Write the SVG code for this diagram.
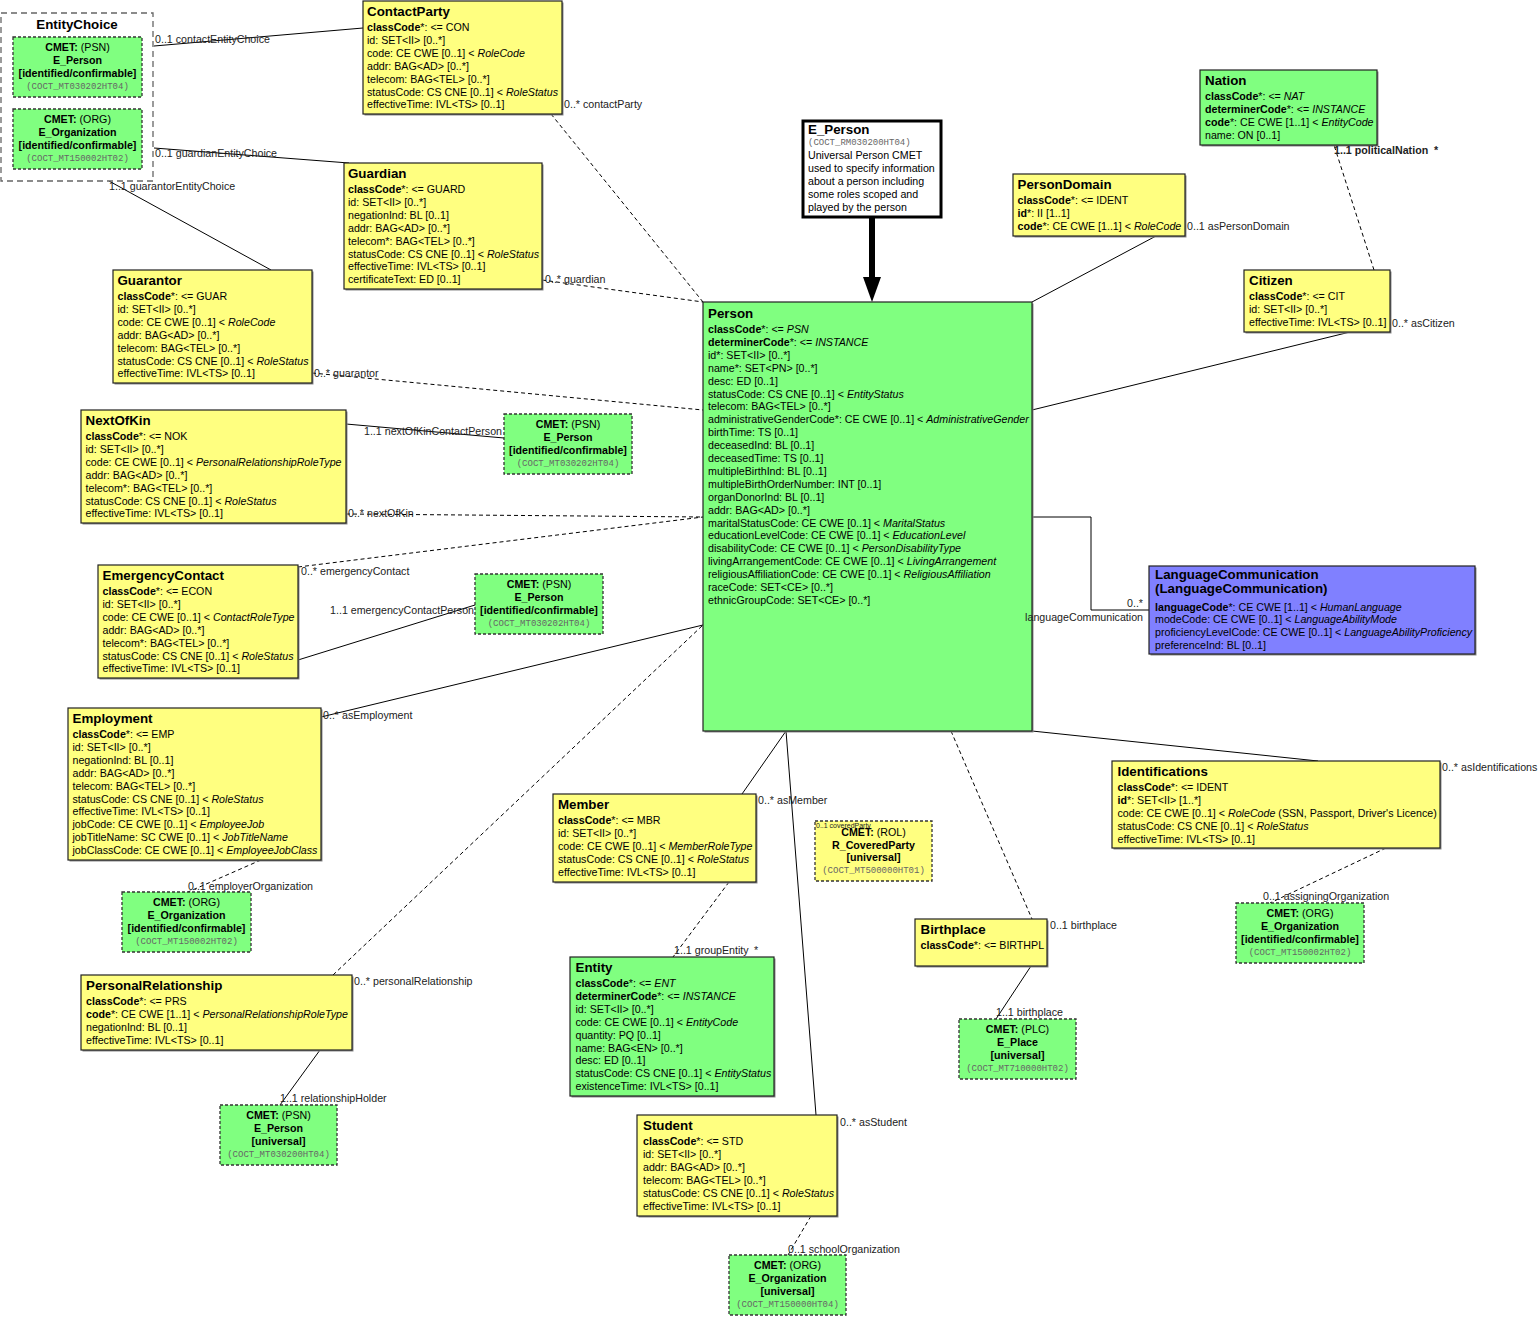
<svg xmlns="http://www.w3.org/2000/svg" width="1539" height="1317" viewBox="0 0 1539 1317">
<style>
text{font-family:"Liberation Sans",Arial,sans-serif;font-size:10.67px;fill:#000}
.t{font-size:13.33px;font-weight:bold}
.b{font-weight:bold}
.i{font-style:italic}
.c{text-anchor:middle}
.e{text-anchor:end}
.m{font-family:"Liberation Mono","Courier New",monospace;font-size:9px;fill:#666}
.l{fill:#222}
.y{fill:#ffff80;stroke:#222;stroke-width:1.2}
.g{fill:#80ff80;stroke:#222;stroke-width:1.2}
.p{fill:#8080ff;stroke:#222;stroke-width:1.2}
.sh{fill:#8a8a8a}
.cm{fill:#80ff80;stroke:#333;stroke-width:1.3;stroke-dasharray:3 2}
.cmy{fill:#ffff80;stroke:#333;stroke-width:1.3;stroke-dasharray:3 2}
.ec{fill:#fff;stroke:#666;stroke-width:1.3;stroke-dasharray:6 4}
.note{fill:#fff;stroke:#000;stroke-width:3}
.s{stroke:#000;stroke-width:1;fill:none}
.d{stroke:#000;stroke-width:1;fill:none;stroke-dasharray:4 3}
</style>
<rect x="0" y="0" width="1539" height="1317" fill="#fff"/>

<g id="connectors">
<line class="s" x1="154" y1="46" x2="363" y2="28"/>
<line class="d" x1="551" y1="114" x2="703" y2="302"/>
<line class="s" x1="154" y1="148" x2="349" y2="163"/>
<line class="d" x1="542" y1="280" x2="703" y2="302"/>
<line class="s" x1="271" y1="270" x2="109" y2="181"/>
<line class="d" x1="312" y1="373" x2="703" y2="410"/>
<line class="s" x1="346" y1="424" x2="504" y2="438"/>
<line class="d" x1="346" y1="514" x2="703" y2="517"/>
<line class="d" x1="298" y1="567" x2="703" y2="517"/>
<line class="s" x1="298" y1="660" x2="475" y2="605"/>
<line class="s" x1="321" y1="717" x2="703" y2="625"/>
<line class="d" x1="261" y1="860" x2="188" y2="892"/>
<line class="d" x1="333" y1="975" x2="703" y2="625"/>
<line class="s" x1="320" y1="1050" x2="280" y2="1105"/>
<line class="s" x1="742" y1="794" x2="786" y2="731"/>
<line class="d" x1="729" y1="882" x2="673" y2="957"/>
<line class="s" x1="786" y1="731" x2="816" y2="1115"/>
<line class="d" x1="811" y1="1216" x2="788" y2="1255"/>
<line class="d" x1="951" y1="731" x2="1032" y2="919"/>
<line class="s" x1="1031" y1="966" x2="996" y2="1019"/>
<line class="s" x1="1032" y1="731" x2="1318" y2="761"/>
<line class="d" x1="1386" y1="848" x2="1270" y2="903"/>
<line class="s" x1="1032" y1="302" x2="1156" y2="236"/>
<line class="s" x1="1032" y1="410" x2="1350" y2="332"/>
<line class="d" x1="1374" y1="270" x2="1334" y2="145"/>
<polyline class="s" points="1032,517 1091,517 1091,610 1149,610"/>
<line x1="872" y1="217" x2="872" y2="280" stroke="#000" stroke-width="6"/>
<polygon points="863,277 881,277 872,302" fill="#000"/>
</g>

<g id="EntityChoice">
<rect class="ec" x="1" y="13" width="152" height="168"/>
<text class="t c" x="77" y="29">EntityChoice</text>
</g>
<g id="EC_E_Person">
<rect class="cm" x="13" y="37" width="129" height="60"/>
<text class="c" x="77.5" y="51"><tspan class="b">CMET:</tspan> (PSN)</text>
<text class="c b" x="77.5" y="64">E_Person</text>
<text class="c b" x="77.5" y="77">[identified/confirmable]</text>
<text class="c m" x="77.5" y="88.5">(COCT_MT030202HT04)</text>
</g>
<g id="EC_E_Organization">
<rect class="cm" x="13" y="109" width="129" height="60"/>
<text class="c" x="77.5" y="123"><tspan class="b">CMET:</tspan> (ORG)</text>
<text class="c b" x="77.5" y="136">E_Organization</text>
<text class="c b" x="77.5" y="149">[identified/confirmable]</text>
<text class="c m" x="77.5" y="160.5">(COCT_MT150002HT02)</text>
</g>

<g id="ContactParty">
<rect class="sh" x="364.5" y="2.5" width="199" height="113"/>
<rect class="y" x="363" y="1" width="199" height="113"/>
<text class="t" x="367" y="16">ContactParty</text>
<text x="367" y="31"><tspan class="b">classCode</tspan>*: &lt;= CON</text>
<text x="367" y="43.9">id: SET&lt;II&gt; [0..*]</text>
<text x="367" y="56.8">code: CE CWE [0..1] &lt; <tspan class="i">RoleCode</tspan></text>
<text x="367" y="69.7">addr: BAG&lt;AD&gt; [0..*]</text>
<text x="367" y="82.6">telecom: BAG&lt;TEL&gt; [0..*]</text>
<text x="367" y="95.5">statusCode: CS CNE [0..1] &lt; <tspan class="i">RoleStatus</tspan></text>
<text x="367" y="108.4">effectiveTime: IVL&lt;TS&gt; [0..1]</text>
</g>

<g id="Guardian">
<rect class="sh" x="345.5" y="164.5" width="198" height="126"/>
<rect class="y" x="344" y="163" width="198" height="126"/>
<text class="t" x="348" y="178">Guardian</text>
<text x="348" y="193"><tspan class="b">classCode</tspan>*: &lt;= GUARD</text>
<text x="348" y="205.9">id: SET&lt;II&gt; [0..*]</text>
<text x="348" y="218.8">negationInd: BL [0..1]</text>
<text x="348" y="231.7">addr: BAG&lt;AD&gt; [0..*]</text>
<text x="348" y="244.6">telecom*: BAG&lt;TEL&gt; [0..*]</text>
<text x="348" y="257.5">statusCode: CS CNE [0..1] &lt; <tspan class="i">RoleStatus</tspan></text>
<text x="348" y="270.4">effectiveTime: IVL&lt;TS&gt; [0..1]</text>
<text x="348" y="283.3">certificateText: ED [0..1]</text>
</g>

<g id="Guarantor">
<rect class="sh" x="114.5" y="271.5" width="199" height="113"/>
<rect class="y" x="113" y="270" width="199" height="113"/>
<text class="t" x="117.5" y="285">Guarantor</text>
<text x="117.5" y="300"><tspan class="b">classCode</tspan>*: &lt;= GUAR</text>
<text x="117.5" y="312.9">id: SET&lt;II&gt; [0..*]</text>
<text x="117.5" y="325.8">code: CE CWE [0..1] &lt; <tspan class="i">RoleCode</tspan></text>
<text x="117.5" y="338.7">addr: BAG&lt;AD&gt; [0..*]</text>
<text x="117.5" y="351.6">telecom: BAG&lt;TEL&gt; [0..*]</text>
<text x="117.5" y="364.5">statusCode: CS CNE [0..1] &lt; <tspan class="i">RoleStatus</tspan></text>
<text x="117.5" y="377.4">effectiveTime: IVL&lt;TS&gt; [0..1]</text>
</g>

<g id="NextOfKin">
<rect class="sh" x="82.5" y="411.5" width="265" height="113"/>
<rect class="y" x="81" y="410" width="265" height="113"/>
<text class="t" x="85.5" y="425">NextOfKin</text>
<text x="85.5" y="440"><tspan class="b">classCode</tspan>*: &lt;= NOK</text>
<text x="85.5" y="452.9">id: SET&lt;II&gt; [0..*]</text>
<text x="85.5" y="465.8">code: CE CWE [0..1] &lt; <tspan class="i">PersonalRelationshipRoleType</tspan></text>
<text x="85.5" y="478.7">addr: BAG&lt;AD&gt; [0..*]</text>
<text x="85.5" y="491.6">telecom*: BAG&lt;TEL&gt; [0..*]</text>
<text x="85.5" y="504.5">statusCode: CS CNE [0..1] &lt; <tspan class="i">RoleStatus</tspan></text>
<text x="85.5" y="517.4">effectiveTime: IVL&lt;TS&gt; [0..1]</text>
</g>
<g id="NOK_E_Person">
<rect class="cm" x="504" y="414" width="128" height="60"/>
<text class="c" x="568" y="428"><tspan class="b">CMET:</tspan> (PSN)</text>
<text class="c b" x="568" y="441">E_Person</text>
<text class="c b" x="568" y="454">[identified/confirmable]</text>
<text class="c m" x="568" y="465.5">(COCT_MT030202HT04)</text>
</g>

<g id="EmergencyContact">
<rect class="sh" x="99.5" y="566.5" width="200" height="113"/>
<rect class="y" x="98" y="565" width="200" height="113"/>
<text class="t" x="102.5" y="580">EmergencyContact</text>
<text x="102.5" y="595"><tspan class="b">classCode</tspan>*: &lt;= ECON</text>
<text x="102.5" y="607.9">id: SET&lt;II&gt; [0..*]</text>
<text x="102.5" y="620.8">code: CE CWE [0..1] &lt; <tspan class="i">ContactRoleType</tspan></text>
<text x="102.5" y="633.7">addr: BAG&lt;AD&gt; [0..*]</text>
<text x="102.5" y="646.6">telecom*: BAG&lt;TEL&gt; [0..*]</text>
<text x="102.5" y="659.5">statusCode: CS CNE [0..1] &lt; <tspan class="i">RoleStatus</tspan></text>
<text x="102.5" y="672.4">effectiveTime: IVL&lt;TS&gt; [0..1]</text>
</g>
<g id="EMC_E_Person">
<rect class="cm" x="475" y="574" width="128" height="60"/>
<text class="c" x="539" y="588"><tspan class="b">CMET:</tspan> (PSN)</text>
<text class="c b" x="539" y="601">E_Person</text>
<text class="c b" x="539" y="614">[identified/confirmable]</text>
<text class="c m" x="539" y="625.5">(COCT_MT030202HT04)</text>
</g>

<g id="Employment">
<rect class="sh" x="69.5" y="709.5" width="253" height="152"/>
<rect class="y" x="68" y="708" width="253" height="152"/>
<text class="t" x="72.5" y="723">Employment</text>
<text x="72.5" y="738"><tspan class="b">classCode</tspan>*: &lt;= EMP</text>
<text x="72.5" y="750.9">id: SET&lt;II&gt; [0..*]</text>
<text x="72.5" y="763.8">negationInd: BL [0..1]</text>
<text x="72.5" y="776.7">addr: BAG&lt;AD&gt; [0..*]</text>
<text x="72.5" y="789.6">telecom: BAG&lt;TEL&gt; [0..*]</text>
<text x="72.5" y="802.5">statusCode: CS CNE [0..1] &lt; <tspan class="i">RoleStatus</tspan></text>
<text x="72.5" y="815.4">effectiveTime: IVL&lt;TS&gt; [0..1]</text>
<text x="72.5" y="828.3">jobCode: CE CWE [0..1] &lt; <tspan class="i">EmployeeJob</tspan></text>
<text x="72.5" y="841.2">jobTitleName: SC CWE [0..1] &lt; <tspan class="i">JobTitleName</tspan></text>
<text x="72.5" y="854.1">jobClassCode: CE CWE [0..1] &lt; <tspan class="i">EmployeeJobClass</tspan></text>
</g>
<g id="EMP_E_Organization">
<rect class="cm" x="122" y="892" width="129" height="60"/>
<text class="c" x="186.5" y="906"><tspan class="b">CMET:</tspan> (ORG)</text>
<text class="c b" x="186.5" y="919">E_Organization</text>
<text class="c b" x="186.5" y="932">[identified/confirmable]</text>
<text class="c m" x="186.5" y="943.5">(COCT_MT150002HT02)</text>
</g>

<g id="PersonalRelationship">
<rect class="sh" x="82.5" y="976.5" width="271" height="75"/>
<rect class="y" x="81" y="975" width="271" height="75"/>
<text class="t" x="86" y="990">PersonalRelationship</text>
<text x="86" y="1005"><tspan class="b">classCode</tspan>*: &lt;= PRS</text>
<text x="86" y="1017.9"><tspan class="b">code</tspan>*: CE CWE [1..1] &lt; <tspan class="i">PersonalRelationshipRoleType</tspan></text>
<text x="86" y="1030.8">negationInd: BL [0..1]</text>
<text x="86" y="1043.7">effectiveTime: IVL&lt;TS&gt; [0..1]</text>
</g>
<g id="PR_E_Person">
<rect class="cm" x="220" y="1105" width="117" height="60"/>
<text class="c" x="278.5" y="1119"><tspan class="b">CMET:</tspan> (PSN)</text>
<text class="c b" x="278.5" y="1132">E_Person</text>
<text class="c b" x="278.5" y="1145">[universal]</text>
<text class="c m" x="278.5" y="1156.5">(COCT_MT030200HT04)</text>
</g>

<g id="E_Person_Note">
<rect class="note" x="803" y="121" width="138" height="96"/>
<text class="t" x="808" y="134">E_Person</text>
<text class="m" x="808" y="144.5">(COCT_RM030200HT04)</text>
<text x="808" y="159">Universal Person CMET</text>
<text x="808" y="171.9">used to specify information</text>
<text x="808" y="184.8">about a person including</text>
<text x="808" y="197.7">some roles scoped and</text>
<text x="808" y="210.6">played by the person</text>
</g>

<g id="Person">
<rect class="sh" x="704.5" y="303.5" width="329" height="429"/>
<rect class="g" x="703" y="302" width="329" height="429"/>
<text class="t" x="708" y="317.5">Person</text>
<text x="708" y="333"><tspan class="b">classCode</tspan>*: &lt;= <tspan class="i">PSN</tspan></text>
<text x="708" y="345.9"><tspan class="b">determinerCode</tspan>*: &lt;= <tspan class="i">INSTANCE</tspan></text>
<text x="708" y="358.8">id*: SET&lt;II&gt; [0..*]</text>
<text x="708" y="371.7">name*: SET&lt;PN&gt; [0..*]</text>
<text x="708" y="384.6">desc: ED [0..1]</text>
<text x="708" y="397.5">statusCode: CS CNE [0..1] &lt; <tspan class="i">EntityStatus</tspan></text>
<text x="708" y="410.4">telecom: BAG&lt;TEL&gt; [0..*]</text>
<text x="708" y="423.3">administrativeGenderCode*: CE CWE [0..1] &lt; <tspan class="i">AdministrativeGender</tspan></text>
<text x="708" y="436.2">birthTime: TS [0..1]</text>
<text x="708" y="449.1">deceasedInd: BL [0..1]</text>
<text x="708" y="462">deceasedTime: TS [0..1]</text>
<text x="708" y="474.9">multipleBirthInd: BL [0..1]</text>
<text x="708" y="487.8">multipleBirthOrderNumber: INT [0..1]</text>
<text x="708" y="500.7">organDonorInd: BL [0..1]</text>
<text x="708" y="513.6">addr: BAG&lt;AD&gt; [0..*]</text>
<text x="708" y="526.5">maritalStatusCode: CE CWE [0..1] &lt; <tspan class="i">MaritalStatus</tspan></text>
<text x="708" y="539.4">educationLevelCode: CE CWE [0..1] &lt; <tspan class="i">EducationLevel</tspan></text>
<text x="708" y="552.3">disabilityCode: CE CWE [0..1] &lt; <tspan class="i">PersonDisabilityType</tspan></text>
<text x="708" y="565.2">livingArrangementCode: CE CWE [0..1] &lt; <tspan class="i">LivingArrangement</tspan></text>
<text x="708" y="578.1">religiousAffiliationCode: CE CWE [0..1] &lt; <tspan class="i">ReligiousAffiliation</tspan></text>
<text x="708" y="591">raceCode: SET&lt;CE&gt; [0..*]</text>
<text x="708" y="603.9">ethnicGroupCode: SET&lt;CE&gt; [0..*]</text>
</g>

<g id="Nation">
<rect class="sh" x="1201.5" y="71.5" width="177" height="75"/>
<rect class="g" x="1200" y="70" width="177" height="75"/>
<text class="t" x="1205" y="85">Nation</text>
<text x="1205" y="100"><tspan class="b">classCode</tspan>*: &lt;= <tspan class="i">NAT</tspan></text>
<text x="1205" y="112.9"><tspan class="b">determinerCode</tspan>*: &lt;= <tspan class="i">INSTANCE</tspan></text>
<text x="1205" y="125.8"><tspan class="b">code</tspan>*: CE CWE [1..1] &lt; <tspan class="i">EntityCode</tspan></text>
<text x="1205" y="138.7">name: ON [0..1]</text>
</g>

<g id="PersonDomain">
<rect class="sh" x="1014.5" y="175.5" width="172" height="62"/>
<rect class="y" x="1013" y="174" width="172" height="62"/>
<text class="t" x="1017.5" y="188.5">PersonDomain</text>
<text x="1017.5" y="204"><tspan class="b">classCode</tspan>*: &lt;= IDENT</text>
<text x="1017.5" y="216.9"><tspan class="b">id</tspan>*: II [1..1]</text>
<text x="1017.5" y="229.8"><tspan class="b">code</tspan>*: CE CWE [1..1] &lt; <tspan class="i">RoleCode</tspan></text>
</g>

<g id="Citizen">
<rect class="sh" x="1245.5" y="271.5" width="146" height="62"/>
<rect class="y" x="1244" y="270" width="146" height="62"/>
<text class="t" x="1249" y="284.5">Citizen</text>
<text x="1249" y="300"><tspan class="b">classCode</tspan>*: &lt;= CIT</text>
<text x="1249" y="312.9">id: SET&lt;II&gt; [0..*]</text>
<text x="1249" y="325.8">effectiveTime: IVL&lt;TS&gt; [0..1]</text>
</g>

<g id="LanguageCommunication">
<rect class="sh" x="1150.5" y="567.5" width="326" height="88"/>
<rect class="p" x="1149" y="566" width="326" height="88"/>
<text class="t" x="1155" y="578.5">LanguageCommunication</text>
<text class="t" x="1155" y="592.5">(LanguageCommunication)</text>
<text x="1155" y="610.5"><tspan class="b">languageCode</tspan>*: CE CWE [1..1] &lt; <tspan class="i">HumanLanguage</tspan></text>
<text x="1155" y="623.4">modeCode: CE CWE [0..1] &lt; <tspan class="i">LanguageAbilityMode</tspan></text>
<text x="1155" y="636.3">proficiencyLevelCode: CE CWE [0..1] &lt; <tspan class="i">LanguageAbilityProficiency</tspan></text>
<text x="1155" y="649.2">preferenceInd: BL [0..1]</text>
</g>

<g id="Member">
<rect class="sh" x="554.5" y="795.5" width="203" height="88"/>
<rect class="y" x="553" y="794" width="203" height="88"/>
<text class="t" x="558" y="809">Member</text>
<text x="558" y="824"><tspan class="b">classCode</tspan>*: &lt;= MBR</text>
<text x="558" y="836.9">id: SET&lt;II&gt; [0..*]</text>
<text x="558" y="849.8">code: CE CWE [0..1] &lt; <tspan class="i">MemberRoleType</tspan></text>
<text x="558" y="862.7">statusCode: CS CNE [0..1] &lt; <tspan class="i">RoleStatus</tspan></text>
<text x="558" y="875.6">effectiveTime: IVL&lt;TS&gt; [0..1]</text>
</g>

<g id="Entity">
<rect class="sh" x="571.5" y="958.5" width="204" height="139"/>
<rect class="g" x="570" y="957" width="204" height="139"/>
<text class="t" x="575.5" y="972">Entity</text>
<text x="575.5" y="987"><tspan class="b">classCode</tspan>*: &lt;= <tspan class="i">ENT</tspan></text>
<text x="575.5" y="999.9"><tspan class="b">determinerCode</tspan>*: &lt;= <tspan class="i">INSTANCE</tspan></text>
<text x="575.5" y="1012.8">id: SET&lt;II&gt; [0..*]</text>
<text x="575.5" y="1025.7">code: CE CWE [0..1] &lt; <tspan class="i">EntityCode</tspan></text>
<text x="575.5" y="1038.6">quantity: PQ [0..1]</text>
<text x="575.5" y="1051.5">name: BAG&lt;EN&gt; [0..*]</text>
<text x="575.5" y="1064.4">desc: ED [0..1]</text>
<text x="575.5" y="1077.3">statusCode: CS CNE [0..1] &lt; <tspan class="i">EntityStatus</tspan></text>
<text x="575.5" y="1090.2">existenceTime: IVL&lt;TS&gt; [0..1]</text>
</g>

<g id="R_CoveredParty">
<rect class="cmy" x="815" y="821" width="117" height="60"/>
<text class="c" x="873.5" y="836"><tspan class="b">CMET:</tspan> (ROL)</text>
<text class="c b" x="873.5" y="848.5">R_CoveredParty</text>
<text class="c b" x="873.5" y="861">[universal]</text>
<text class="c m" x="873.5" y="872.5">(COCT_MT500000HT01)</text>
</g>

<g id="Birthplace">
<rect class="sh" x="916.5" y="920.5" width="132" height="47"/>
<rect class="y" x="915" y="919" width="132" height="47"/>
<text class="t" x="920.5" y="933.5">Birthplace</text>
<text x="920.5" y="949"><tspan class="b">classCode</tspan>*: &lt;= BIRTHPL</text>
</g>
<g id="E_Place">
<rect class="cm" x="959" y="1019" width="117" height="60"/>
<text class="c" x="1017.5" y="1033"><tspan class="b">CMET:</tspan> (PLC)</text>
<text class="c b" x="1017.5" y="1046">E_Place</text>
<text class="c b" x="1017.5" y="1059">[universal]</text>
<text class="c m" x="1017.5" y="1070.5">(COCT_MT710000HT02)</text>
</g>

<g id="Identifications">
<rect class="sh" x="1113.5" y="762.5" width="328" height="87"/>
<rect class="y" x="1112" y="761" width="328" height="87"/>
<text class="t" x="1117.5" y="775.5">Identifications</text>
<text x="1117.5" y="791"><tspan class="b">classCode</tspan>*: &lt;= IDENT</text>
<text x="1117.5" y="803.9"><tspan class="b">id</tspan>*: SET&lt;II&gt; [1..*]</text>
<text x="1117.5" y="816.8">code: CE CWE [0..1] &lt; <tspan class="i">RoleCode</tspan> (SSN, Passport, Driver's Licence)</text>
<text x="1117.5" y="829.7">statusCode: CS CNE [0..1] &lt; <tspan class="i">RoleStatus</tspan></text>
<text x="1117.5" y="842.6">effectiveTime: IVL&lt;TS&gt; [0..1]</text>
</g>
<g id="ID_E_Organization">
<rect class="cm" x="1236" y="903" width="128" height="60"/>
<text class="c" x="1300" y="917"><tspan class="b">CMET:</tspan> (ORG)</text>
<text class="c b" x="1300" y="930">E_Organization</text>
<text class="c b" x="1300" y="943">[identified/confirmable]</text>
<text class="c m" x="1300" y="954.5">(COCT_MT150002HT02)</text>
</g>

<g id="Student">
<rect class="sh" x="638.5" y="1116.5" width="200" height="101"/>
<rect class="y" x="637" y="1115" width="200" height="101"/>
<text class="t" x="643" y="1130">Student</text>
<text x="643" y="1145"><tspan class="b">classCode</tspan>*: &lt;= STD</text>
<text x="643" y="1157.9">id: SET&lt;II&gt; [0..*]</text>
<text x="643" y="1170.8">addr: BAG&lt;AD&gt; [0..*]</text>
<text x="643" y="1183.7">telecom: BAG&lt;TEL&gt; [0..*]</text>
<text x="643" y="1196.6">statusCode: CS CNE [0..1] &lt; <tspan class="i">RoleStatus</tspan></text>
<text x="643" y="1209.5">effectiveTime: IVL&lt;TS&gt; [0..1]</text>
</g>
<g id="ST_E_Organization">
<rect class="cm" x="729" y="1255" width="117" height="60"/>
<text class="c" x="787.5" y="1269"><tspan class="b">CMET:</tspan> (ORG)</text>
<text class="c b" x="787.5" y="1282">E_Organization</text>
<text class="c b" x="787.5" y="1295">[universal]</text>
<text class="c m" x="787.5" y="1306.5">(COCT_MT150000HT04)</text>
</g>

<g id="connector-labels">
<text class="l" x="155" y="43">0..1 contactEntityChoice</text>
<text class="l" x="564" y="108">0..* contactParty</text>
<text class="l" x="155" y="157">0..1 guardianEntityChoice</text>
<text class="l" x="545" y="283">0..* guardian</text>
<text class="l" x="109" y="190">1..1 guarantorEntityChoice</text>
<text class="l" x="314" y="377">0..* guarantor</text>
<text class="l e" x="502" y="435">1..1 nextOfKinContactPerson</text>
<text class="l" x="348" y="517">0..* nextOfKin</text>
<text class="l" x="301" y="575">0..* emergencyContact</text>
<text class="l e" x="474" y="614">1..1 emergencyContactPerson</text>
<text class="l" x="323" y="719">0..* asEmployment</text>
<text class="l" x="188" y="890">0..1 employerOrganization</text>
<text class="l" x="354" y="985">0..* personalRelationship</text>
<text class="l" x="280" y="1102">1..1 relationshipHolder</text>
<text class="l" x="758" y="804">0..* asMember</text>
<text class="l" x="674" y="954">1..1 groupEntity</text>
<text class="l" x="754" y="954">*</text>
<text class="l" x="840" y="1126">0..* asStudent</text>
<text class="l" x="788" y="1253">0..1 schoolOrganization</text>
<text class="l" x="816" y="828" style="font-size:7px">0..1 coveredParty</text>
<text class="l" x="1050" y="929">0..1 birthplace</text>
<text class="l" x="996" y="1016">1..1 birthplace</text>
<text class="l" x="1442" y="771">0..* asIdentifications</text>
<text class="l" x="1263" y="900">0..1 assigningOrganization</text>
<text class="l" x="1187" y="230">0..1 asPersonDomain</text>
<text class="l" x="1392" y="327">0..* asCitizen</text>
<text class="l b" x="1334" y="154">1..1 politicalNation</text>
<text class="l b" x="1434" y="154">*</text>
<text class="l e" x="1143" y="607">0..*</text>
<text class="l e" x="1143" y="621">languageCommunication</text>
</g>
</svg>
